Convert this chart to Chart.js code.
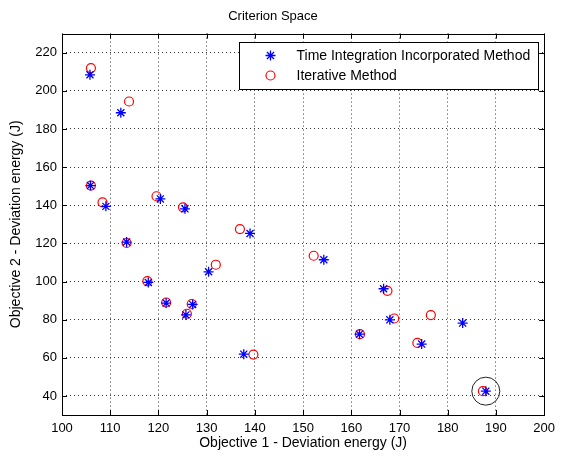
<!DOCTYPE html>
<html>
<head>
<meta charset="utf-8">
<title>Criterion Space</title>
<script src="https://cdn.jsdelivr.net/npm/chart.js@4/dist/chart.umd.min.js"></script>
<style>
    html, body { margin: 0; padding: 0; background: #fff; }
    #wrap { width: 561px; height: 460px; }
</style>
</head>
<body>
<div id="wrap"><canvas id="criterionChart" width="561" height="460"></canvas></div>
<script>
// Data
const timeIntX = [105.8, 112.2, 105.9, 109.1, 120.4, 125.5, 113.4, 117.9, 121.6, 125.7, 127.1,
                  130.4, 139.0, 154.3, 166.7, 168.0, 161.7, 174.6, 183.1, 137.7, 187.9];
const timeIntY = [208.4, 188.5, 150.3, 139.4, 143.3, 138.1, 120.7, 99.5, 88.7, 82.5, 88.0,
                  105.1, 125.2, 111.4, 96.2, 79.9, 72.4, 67.2, 78.2, 61.9, 42.5];
const iterX = [106.0, 113.9, 106.0, 108.4, 119.6, 125.1, 113.4, 117.7, 121.6, 125.9, 126.9,
               131.9, 136.9, 152.2, 167.5, 168.9, 161.8, 173.7, 176.5, 139.7, 187.3];
const iterY = [211.9, 194.4, 150.3, 141.5, 144.7, 138.9, 120.2, 100.2, 89.0, 83.1, 88.2,
               108.8, 127.5, 113.5, 95.1, 80.6, 72.4, 67.8, 82.4, 61.7, 42.5];
const highlightIndex = 20;

const xTicks = [100, 110, 120, 130, 140, 150, 160, 170, 180, 190, 200];
const yTicks = [40, 60, 80, 100, 120, 140, 160, 180, 200, 220];
const xRange = [100, 200];
const yRange = [30, 230];

const seriesNames = ['Time Integration Incorporated Method', 'Iterative Method'];

function toPoints(xs, ys) {
    return xs.map((x, i) => ({ x: x, y: ys[i] }));
}

// MATLAB style box, inward ticks and boxed legend
const matlabAxes = {
    id: 'matlabAxes',
    afterDatasetsDraw(chart) {
        const ctx = chart.ctx;
        const area = chart.chartArea;
        const xs = chart.scales.x;
        const ys = chart.scales.y;
        const tick = 5;

        ctx.save();
        ctx.strokeStyle = '#000';
        ctx.lineWidth = 1;
        ctx.setLineDash([]);
        ctx.strokeRect(Math.round(area.left) + 0.5, Math.round(area.top) + 0.5,
            Math.round(area.right - area.left), Math.round(area.bottom - area.top));

        ctx.beginPath();
        xTicks.forEach(v => {
            const px = Math.round(xs.getPixelForValue(v)) + 0.5;
            ctx.moveTo(px, area.bottom); ctx.lineTo(px, area.bottom - tick);
            ctx.moveTo(px, area.top); ctx.lineTo(px, area.top + tick);
        });
        yTicks.forEach(v => {
            const py = Math.round(ys.getPixelForValue(v)) + 0.5;
            ctx.moveTo(area.left, py); ctx.lineTo(area.left + tick, py);
            ctx.moveTo(area.right, py); ctx.lineTo(area.right - tick, py);
        });
        ctx.stroke();

        // legend box
        ctx.font = '14px "Liberation Sans", Arial, sans-serif';
        const widest = Math.max(...seriesNames.map(s => ctx.measureText(s).width));
        const boxW = Math.round(57 + widest + 8);
        const boxH = 47;
        const bx = Math.round(area.right - 6 - boxW) + 0.5;
        const by = Math.round(area.top + 8) + 0.5;
        ctx.fillStyle = '#fff';
        ctx.fillRect(bx, by, boxW, boxH);
        ctx.strokeStyle = '#000';
        ctx.strokeRect(bx, by, boxW, boxH);

        ctx.textBaseline = 'middle';
        ctx.textAlign = 'left';
        seriesNames.forEach((name, i) => {
            const ds = chart.data.datasets[i];
            const rowY = by + 13 + i * 20;
            ctx.fillStyle = ds.backgroundColor;
            ctx.strokeStyle = ds.borderColor;
            ctx.lineWidth = ds.borderWidth;
            Chart.helpers.drawPoint(ctx, {
                pointStyle: ds.pointStyle,
                radius: ds.pointRadius,
                borderWidth: ds.borderWidth,
                rotation: 0
            }, bx + 31, rowY);
            ctx.fillStyle = '#000';
            ctx.fillText(name, bx + 57, rowY + 1);
        });
        ctx.restore();
    }
};

const tickFont = { family: '"Liberation Sans", Arial, sans-serif', size: 13 };
const titleFont = { family: '"Liberation Sans", Arial, sans-serif', size: 14 };

new Chart(document.getElementById('criterionChart'), {
    type: 'scatter',
    data: {
        datasets: [
            {
                label: seriesNames[0],
                data: toPoints(timeIntX, timeIntY),
                pointStyle: 'star',
                pointRadius: 5,
                borderWidth: 1.3,
                borderColor: '#0000ff',
                backgroundColor: '#0000ff',
                order: 1
            },
            {
                label: seriesNames[1],
                data: toPoints(iterX, iterY),
                pointStyle: 'circle',
                pointRadius: 4.5,
                borderWidth: 1.2,
                borderColor: '#ff0000',
                backgroundColor: 'rgba(0,0,0,0)',
                order: 2
            },
            {
                label: 'highlight',
                data: [{ x: timeIntX[highlightIndex], y: timeIntY[highlightIndex] }],
                pointStyle: 'circle',
                pointRadius: 14,
                borderWidth: 1,
                borderColor: '#222',
                backgroundColor: 'rgba(0,0,0,0)',
                order: 3
            }
        ]
    },
    options: {
        responsive: false,
        animation: false,
        events: [],
        layout: { padding: { top: 0, right: 15, bottom: 0, left: 0 } },
        plugins: {
            legend: { display: false },
            tooltip: { enabled: false },
            title: {
                display: true,
                text: 'Criterion Space',
                color: '#000',
                font: { family: '"Liberation Sans", Arial, sans-serif', size: 13, weight: 'normal' },
                padding: { top: 9, bottom: 9 }
            }
        },
        scales: {
            x: {
                type: 'linear',
                min: xRange[0],
                max: xRange[1],
                afterBuildTicks: scale => { scale.ticks = xTicks.map(v => ({ value: v })); },
                afterFit: scale => { scale.height = 45; },
                border: { display: false, dash: [1, 3] },
                grid: { color: '#333', lineWidth: 1, drawTicks: false },
                ticks: { color: '#000', font: tickFont, padding: 6, maxRotation: 0 },
                title: {
                    display: true,
                    text: 'Objective 1 - Deviation energy (J)',
                    color: '#000',
                    font: titleFont,
                    padding: { top: 0, bottom: 8 }
                }
            },
            y: {
                type: 'linear',
                min: yRange[0],
                max: yRange[1],
                afterBuildTicks: scale => { scale.ticks = yTicks.map(v => ({ value: v })); },
                afterFit: scale => { scale.width = 62; },
                border: { display: false, dash: [1, 3] },
                grid: { color: '#333', lineWidth: 1, drawTicks: false },
                ticks: { color: '#000', font: tickFont, padding: 5 },
                title: {
                    display: true,
                    text: 'Objective 2 - Deviation energy (J)',
                    color: '#000',
                    font: titleFont,
                    padding: { top: 8, bottom: 0 }
                }
            }
        }
    },
    plugins: [matlabAxes]
});
</script>
</body>
</html>
